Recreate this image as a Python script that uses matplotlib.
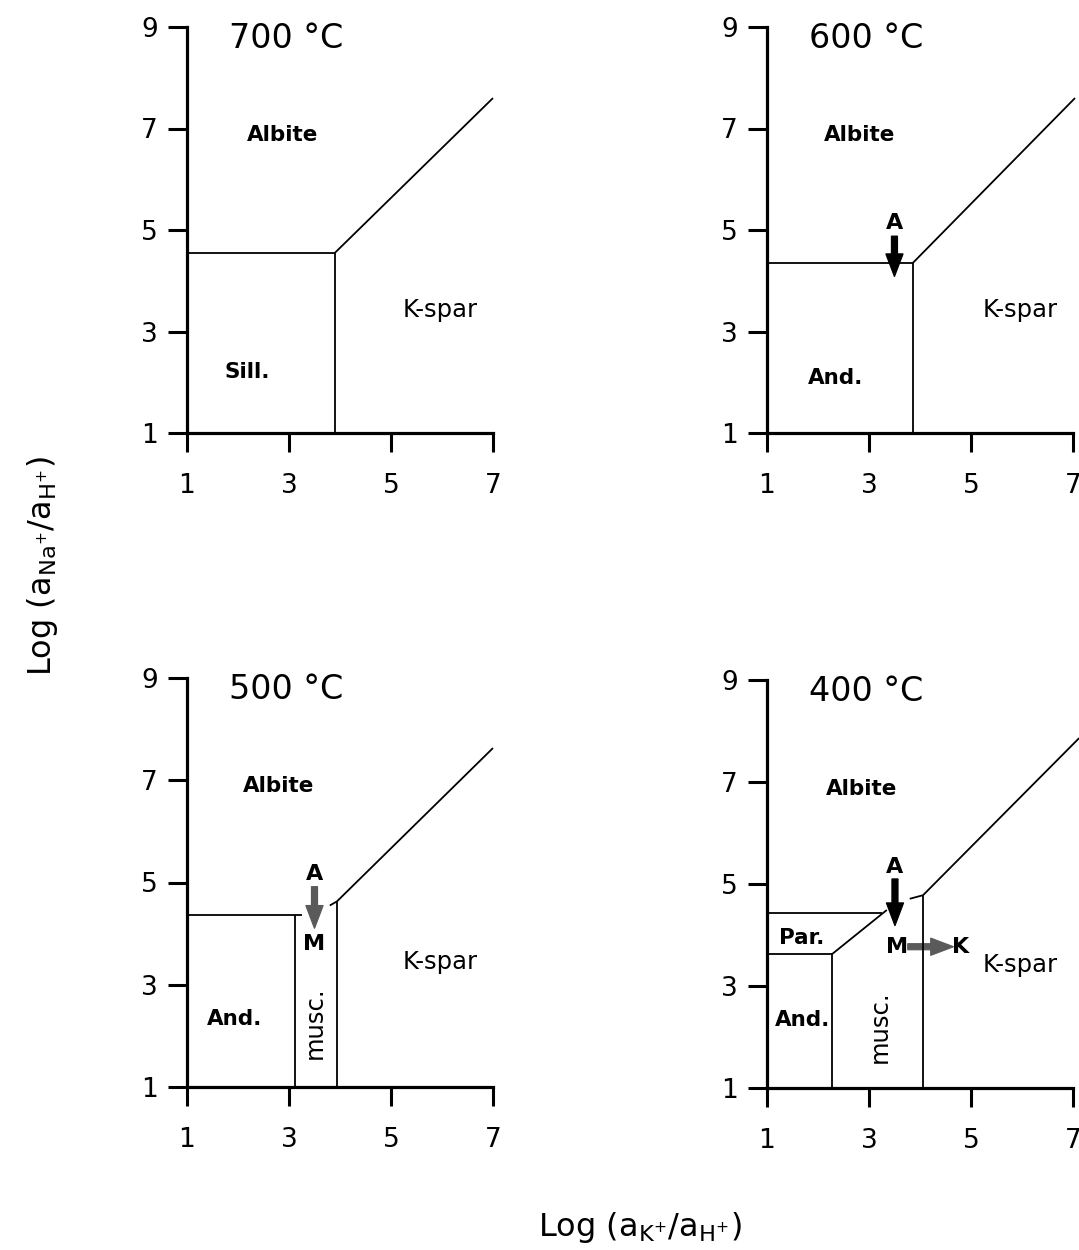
import matplotlib
matplotlib.use('Agg')
import matplotlib.pyplot as plt

plt.rcParams['font.family'] = ['DejaVu Sans']
plt.rcParams['mathtext.fontset'] = 'dejavusans'

temps = ['700 °C', '600 °C', '500 °C', '400 °C']
x_ticks = [1, 3, 5, 7]
y_ticks = [1, 3, 5, 7, 9]

# phase boundaries, each one ([x0, x1], [y0, y1])
lines_700 = [([1, 3.9], [4.55, 4.55]), ([3.9, 3.9], [1, 4.55]), ([3.9, 7.0], [4.55, 7.6])]
lines_600 = [([1, 3.86], [4.35, 4.35]), ([3.86, 3.86], [1, 4.35]), ([3.86, 7.04], [4.35, 7.6])]
lines_500 = [([1, 3.25], [4.37, 4.37]), ([3.12, 3.12], [1, 4.37]),
             ([3.8, 3.94], [4.55, 4.63]), ([3.94, 3.94], [1, 4.63]),
             ([3.94, 7.0], [4.63, 7.63])]
lines_400 = [([1, 3.25], [4.43, 4.43]), ([1, 2.27], [3.62, 3.62]),
             ([2.27, 2.27], [1, 3.62]), ([2.27, 3.35], [3.62, 4.49]),
             ([3.8, 4.06], [4.71, 4.78]), ([4.06, 4.06], [1, 4.78]),
             ([4.06, 7.12], [4.78, 7.86])]

# field names: (text, x, y, weight, rotation)
labels_700 = [('Albite', 2.87, 6.87, 'bold', 0), ('K-spar', 5.96, 3.42, 'normal', 0),
              ('Sill.', 2.18, 2.2, 'bold', 0)]
labels_600 = [('Albite', 2.82, 6.87, 'bold', 0), ('K-spar', 5.96, 3.42, 'normal', 0),
              ('And.', 2.35, 2.08, 'bold', 0), ('A', 3.5, 5.13, 'bold', 0)]
labels_500 = [('Albite', 2.8, 6.88, 'bold', 0), ('K-spar', 5.96, 3.45, 'normal', 0),
              ('And.', 1.94, 2.33, 'bold', 0), ('musc.', 3.5, 2.25, 'normal', 90),
              ('A', 3.5, 5.16, 'bold', 0), ('M', 3.5, 3.8, 'bold', 0)]
labels_400 = [('Albite', 2.86, 6.86, 'bold', 0), ('K-spar', 5.96, 3.41, 'normal', 0),
              ('Par.', 1.69, 3.95, 'bold', 0), ('And.', 1.69, 2.33, 'bold', 0),
              ('musc.', 3.22, 2.2, 'normal', 90), ('A', 3.51, 5.33, 'bold', 0),
              ('M', 3.55, 3.77, 'bold', 0), ('K', 4.8, 3.77, 'bold', 0)]

# arrows: (x, y, dx, dy, colour)
arrows_700 = []
arrows_600 = [(3.5, 4.88, 0, -0.8, 'black')]
arrows_500 = [(3.5, 4.92, 0, -0.82, '#5a5a5a')]
arrows_400 = [(3.51, 5.1, 0, -0.92, 'black'), (3.76, 3.77, 0.9, 0, '#5a5a5a')]

panels = [
    (temps[0], lines_700, labels_700, arrows_700, [0.1733, 0.6536, 0.2836, 0.3248]),
    (temps[1], lines_600, labels_600, arrows_600, [0.7108, 0.6536, 0.2836, 0.3248]),
    (temps[2], lines_500, labels_500, arrows_500, [0.1733, 0.1304, 0.2836, 0.3272]),
    (temps[3], lines_400, labels_400, arrows_400, [0.7108, 0.1296, 0.2836, 0.3264]),
]

fig = plt.figure(figsize=(10.79, 12.5), dpi=100)

for title, segs, labels, arrows, pos in panels:
    ax = fig.add_axes(pos)
    ax.set_xlim(1, 7)
    ax.set_ylim(1, 9)
    for s in ['top', 'right']:
        ax.spines[s].set_visible(False)
    for s in ['left', 'bottom']:
        ax.spines[s].set_linewidth(2.3)
    ax.set_xticks(x_ticks)
    ax.set_yticks(y_ticks)
    ax.tick_params(axis='x', direction='out', length=14, width=2.2, pad=15, labelsize=19)
    ax.tick_params(axis='y', direction='out', length=14, width=2.2, pad=7, labelsize=19)
    ax.patch.set_alpha(0)

    for xs, ys in segs:
        ax.plot(xs, ys, color='black', lw=1.3, clip_on=False, solid_capstyle='butt')

    for txt, x, y, w, rot in labels:
        size = 15.5
        if txt == 'K-spar':
            size = 17.5
        elif txt == 'musc.':
            size = 17.5
        elif txt in ('A', 'M', 'K'):
            size = 16
        ax.text(x, y, txt, fontsize=size, fontweight=w, rotation=rot,
                ha='center', va='center')

    for x, y, dx, dy, c in arrows:
        ax.arrow(x, y, dx, dy, width=0.12, head_width=0.34, head_length=0.45,
                 length_includes_head=True, facecolor=c, edgecolor=c, lw=0.8)

    ax.text(2.95, 8.78, title, fontsize=24, ha='center', va='center')

fig.text(0.039, 0.547, r'Log (a$_{\mathrm{Na}^{+}}$/a$_{\mathrm{H}^{+}}$)',
         rotation=90, fontsize=23, ha='center', va='center')
fig.text(0.593, 0.018, r'Log (a$_{\mathrm{K}^{+}}$/a$_{\mathrm{H}^{+}}$)',
         fontsize=23, ha='center', va='center')

fig.savefig('out.png', dpi=100, facecolor='white')
